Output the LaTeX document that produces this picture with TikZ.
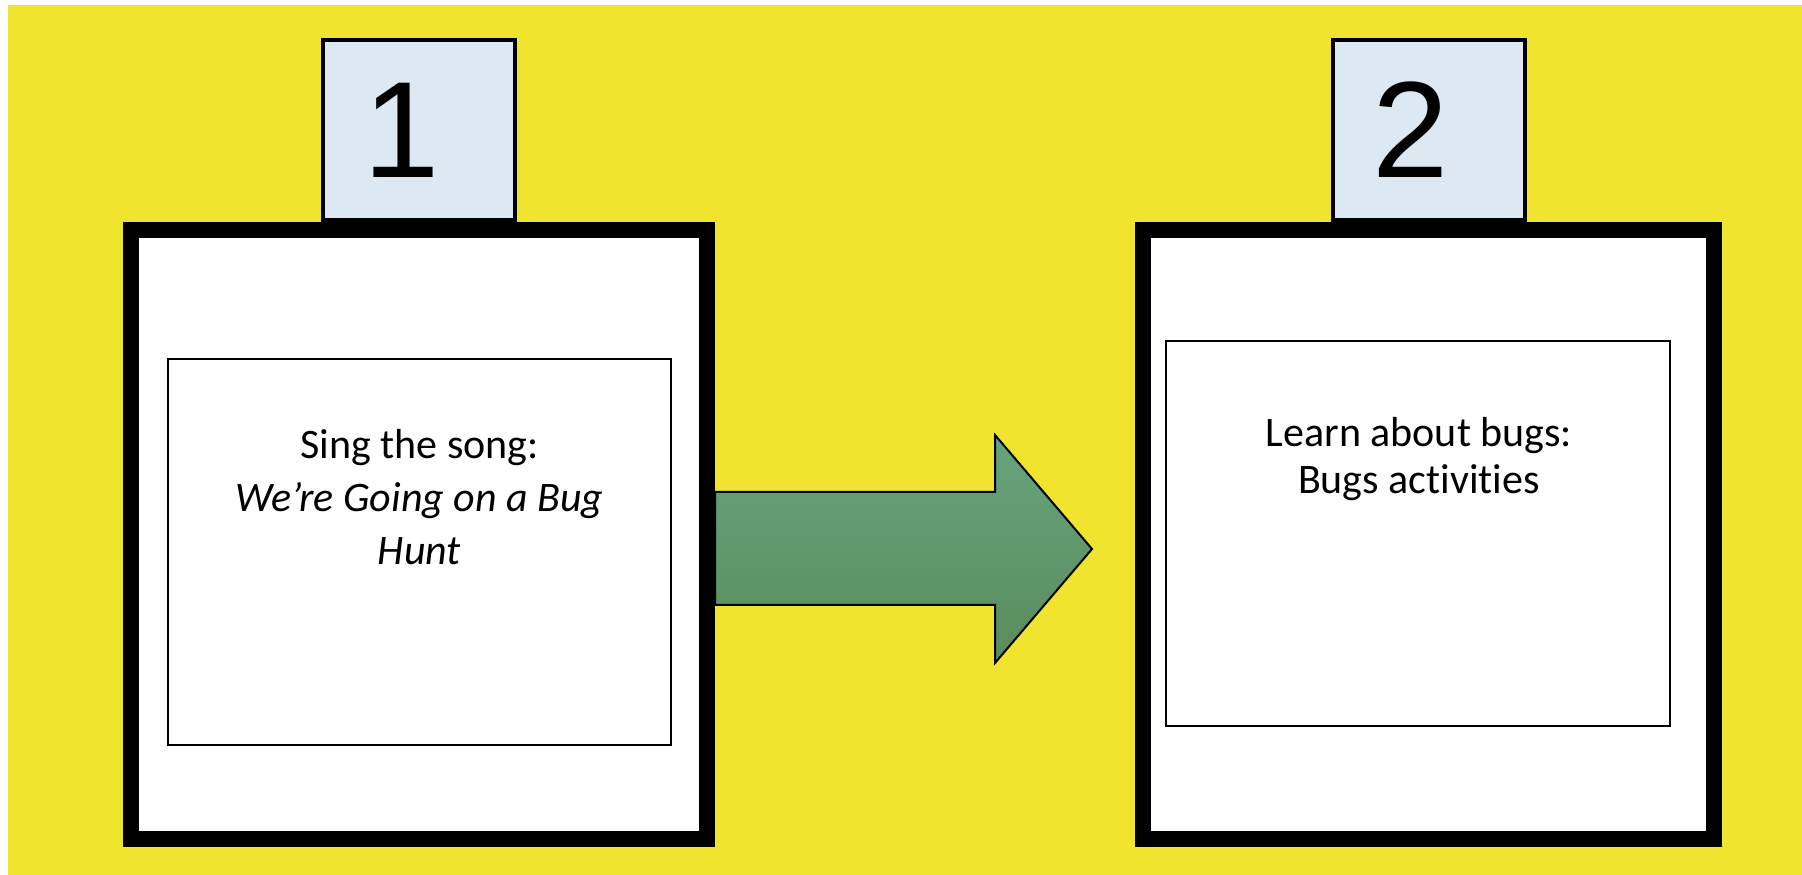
\documentclass[tikz,border=0pt]{standalone}
\usepackage{fontspec}
\setmainfont[Ligatures=NoCommon]{Carlito}
\newfontfamily\numfont{Liberation Sans}
\usepackage{tikz}
\usetikzlibrary{positioning, calc}

\definecolor{bgyellow}{RGB}{240,228,46}
\definecolor{tabblue}{RGB}{220,232,242}
\definecolor{arrowtop}{RGB}{102,164,124}
\definecolor{arrowbot}{RGB}{90,140,92}

\begin{document}
\begin{tikzpicture}[
      stage/.style={draw, fill=white, line width=0.32cm, minimum height=12.18cm},
      tabbox/.style={draw, fill=tabblue, line width=0.08cm, minimum width=3.84cm, minimum height=3.6cm, inner sep=0pt},
      digit/.style={font=\numfont\fontsize{78}{80}\selectfont, inner sep=0pt},
      inner/.style={draw, fill=white, line width=0.04cm, minimum width=10.07cm, minimum height=7.71cm},
      steptext/.style={align=center, anchor=base, inner sep=0pt},
      flow/.style={draw=black, line width=0.04cm, top color=arrowtop, bottom color=arrowbot, line join=miter}
    ]
      \useasboundingbox (0,0) rectangle (36.04,17.5);
      \fill[bgyellow] (0.16,0) rectangle (36.04,17.4);

      \node[stage, minimum width=11.52cm] (stage1) at (8.38,6.81) {};
      \node[stage, minimum width=11.42cm] (stage2) at (28.57,6.81) {};
      \node[tabbox, above=0pt of stage1] (tab1) {};
      \node[tabbox, above=0pt of stage2] (tab2) {};
      \node[digit] (num1) at ([xshift=-0.34cm]tab1.center) {1};
      \node[digit] (num2) at ([xshift=-0.36cm]tab2.center) {2};

      \node[inner] (inner1) at (8.39,6.46) {};
      \node[inner] (inner2) at (28.36,6.83) {};
      \node[steptext, font=\fontsize{23.9}{30.2}\selectfont] (song) at (8.39,6.2)
        {Sing the song:\\ \textit{We’re Going on a Bug}\\ \textit{Hunt}};
      \node[steptext, font=\fontsize{23.9}{27.3}\selectfont] (bugs) at (28.38,7.62)
        {Learn about bugs:\\ Bugs activities};

      \draw[flow] (stage1.east |- 0,7.66) -- (19.9,7.66) -- (19.9,8.8)
        -- ([xshift=-0.86cm]stage2.west |- 0,6.52)
        -- (19.9,4.24) -- (19.9,5.4) -- (stage1.east |- 0,5.4) -- cycle;
    \end{tikzpicture}
\end{document}
